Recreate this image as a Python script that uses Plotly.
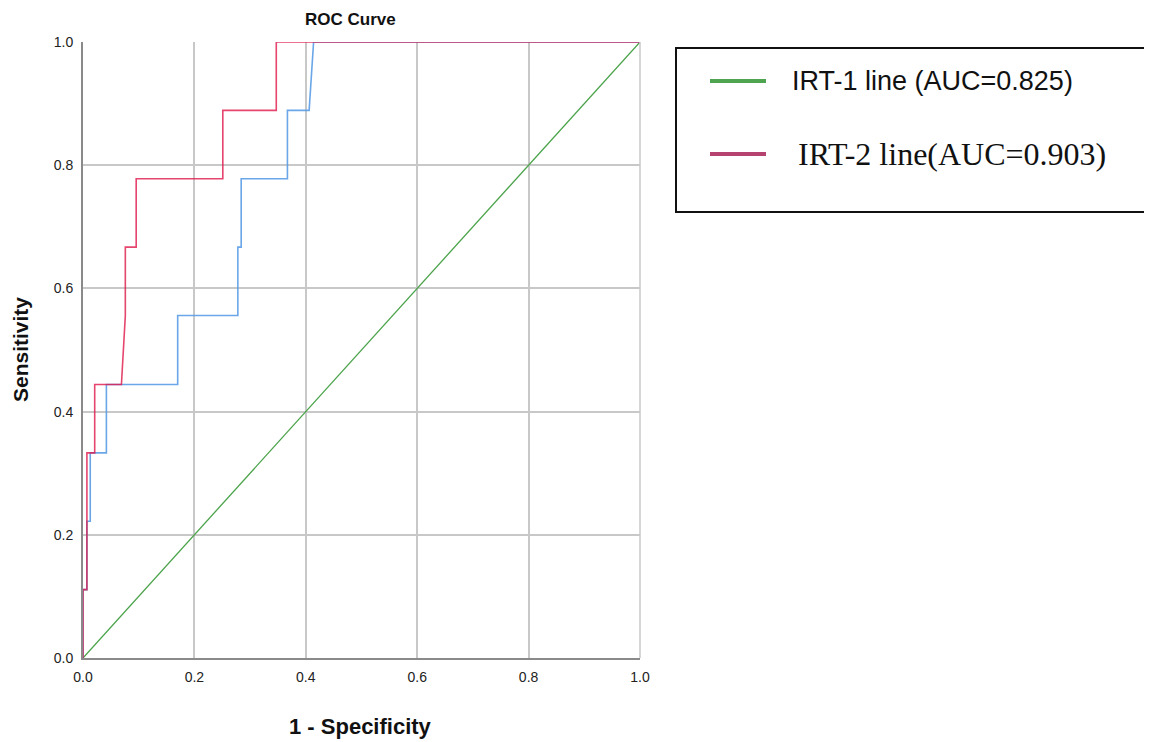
import plotly.graph_objects as go

# ROC data
fpr_irt2 = [0.0, 0.0, 0.007, 0.007, 0.021, 0.021, 0.069, 0.076, 0.076, 0.0955, 0.0955, 0.251, 0.251, 0.347, 0.347, 1.0]
tpr_irt2 = [0.0, 0.111, 0.111, 0.333, 0.333, 0.444, 0.444, 0.556, 0.667, 0.667, 0.778, 0.778, 0.889, 0.889, 1.0, 1.0]

fpr_irt1 = [0.0, 0.0, 0.007, 0.007, 0.013, 0.013, 0.042, 0.042, 0.170, 0.170, 0.278, 0.278, 0.284, 0.284, 0.367, 0.367, 0.406, 0.414, 1.0]
tpr_irt1 = [0.0, 0.111, 0.111, 0.222, 0.222, 0.333, 0.333, 0.444, 0.444, 0.556, 0.556, 0.667, 0.667, 0.778, 0.778, 0.889, 0.889, 1.0, 1.0]

ref_x = [0.0, 1.0]
ref_y = [0.0, 1.0]

tick_vals = [0.0, 0.2, 0.4, 0.6, 0.8, 1.0]
tick_text = ["0.0", "0.2", "0.4", "0.6", "0.8", "1.0"]

legend_labels = ["IRT-1 line (AUC=0.825)", "IRT-2 line(AUC=0.903)"]
legend_colors = ["#4fa44f", "#b5426f"]

W, H = 1152, 742
OFF = 8  # page body margin
L, R, T, B = 83, 640, 42, 658


def px(x):
    return (x - L) / (R - L)


def py(y):
    return (B - y) / (B - T)


fig = go.Figure()
fig.add_trace(go.Scatter(x=ref_x, y=ref_y, mode="lines",
                         line=dict(color="#4aa34a", width=1.3), showlegend=False, cliponaxis=False))
fig.add_trace(go.Scatter(x=fpr_irt1, y=tpr_irt1, mode="lines",
                         line=dict(color="#5b9ee6", width=1.6), opacity=0.9, showlegend=False, cliponaxis=False))
fig.add_trace(go.Scatter(x=fpr_irt2, y=tpr_irt2, mode="lines",
                         line=dict(color="#e0174a", width=1.6), opacity=0.8, showlegend=False, cliponaxis=False))

axis_common = dict(range=[0, 1], tickvals=tick_vals, ticktext=tick_text,
                   showgrid=True, gridcolor="#c8c8c8", gridwidth=1.5,
                   zeroline=False, showline=True, linecolor="#8a8a8a", linewidth=2,
                   ticks="", ticklabelstandoff=5,
                   tickfont=dict(family="Liberation Sans, Arial", size=14, color="#222"))

fig.update_xaxes(**axis_common)
fig.update_yaxes(**axis_common)

shapes = [
    dict(type="line", xref="paper", yref="paper", x0=1, x1=1, y0=0, y1=1, line=dict(color="#c8c8c8", width=1.5)),
    dict(type="rect", xref="paper", yref="paper", x0=px(676), x1=px(1170), y0=py(212), y1=py(48),
         line=dict(color="#111", width=2), fillcolor="white"),
]
annotations = [
    dict(text="<b>ROC Curve</b>", xref="paper", yref="paper", x=px(350), y=py(20), showarrow=False,
         font=dict(family="Liberation Sans, Arial", size=17, color="#111"), xanchor="center", yanchor="middle"),
    dict(text="<b>1 - Specificity</b>", xref="paper", yref="paper", x=px(360), y=py(727), showarrow=False,
         font=dict(family="Liberation Sans, Arial", size=22, color="#111"), xanchor="center", yanchor="middle"),
    dict(text="<b>Sensitivity</b>", xref="paper", yref="paper", x=px(20), y=py(350), showarrow=False, textangle=-90,
         borderpad=0, font=dict(family="Liberation Sans, Arial", size=21, color="#111"),
         xanchor="center", yanchor="middle"),
]
legend_y = [81, 154]
legend_fonts = [dict(family="Liberation Sans, Arial", size=27, color="#111"),
                dict(family="Liberation Serif, Times New Roman", size=32, color="#111")]
legend_x = [790, 796]
for lab, col, yy, xx, f in zip(legend_labels, legend_colors, legend_y, legend_x, legend_fonts):
    shapes.append(dict(type="line", xref="paper", yref="paper", x0=px(710), x1=px(766), y0=py(yy), y1=py(yy),
                       line=dict(color=col, width=4)))
    annotations.append(dict(text=lab, xref="paper", yref="paper", x=px(xx), y=py(yy), showarrow=False,
                            xanchor="left", yanchor="middle", font=f))

FW, FH = W - OFF, H - OFF
fig.update_layout(width=FW, height=FH,
                  margin=dict(l=L - OFF, r=FW - (R - OFF), t=T - OFF, b=FH - (B - OFF)),
                  plot_bgcolor="white", paper_bgcolor="white",
                  shapes=shapes, annotations=annotations, showlegend=False)

fig.write_html("out.html")
